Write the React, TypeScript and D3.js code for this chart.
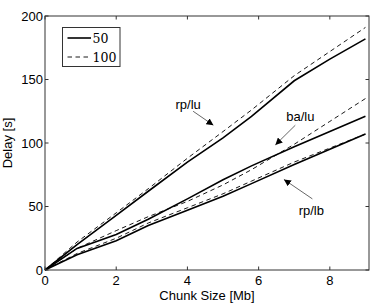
import React, { useRef, useEffect } from 'react';
import * as d3 from 'd3';

// chunk size [Mb]
const chunkSizes = [0, 0.9, 2, 2.9, 4, 5, 5.8, 7, 8, 9];

// delay [s] per scheme, two settings (50 solid, 100 dashed)
const rpLu50 = [0, 20, 43, 62, 85, 104, 121, 149, 166, 182];
const rpLu100 = [0, 22, 45, 64, 88, 109, 126, 153, 172, 191];
const baLu50 = [0, 17, 28, 40, 56, 71, 82, 97, 109, 121];
const baLu100 = [0, 17, 31, 42, 54, 67, 79, 99, 117, 135];
const rpLb50 = [0, 12, 23, 35, 47, 58, 68, 83, 95, 107];
const rpLb100 = [0, 13, 25, 37, 49, 60, 70, 85, 96, 107];

const xTicks = [0, 2, 4, 6, 8];
const yTicks = [0, 50, 100, 150, 200];
const legendLabels = ['50', '100'];

// annotation: label position and arrow (start -> head), in data units
const notes = [
  { text: 'rp/lu', tx: 4.02, ty: 130.5, x1: 4.16, y1: 125, x2: 4.73, y2: 114 },
  { text: 'ba/lu', tx: 7.17, ty: 121, x1: 7.03, y1: 114, x2: 6.47, y2: 98.5 },
  { text: 'rp/lb', tx: 7.48, ty: 46.5, x1: 7.51, y1: 56, x2: 6.71, y2: 71.3 },
];

const App = () => {
  const chartRef = useRef(null);

  useEffect(() => {
    const el = chartRef.current;
    if (!el) return;
    d3.select(el).selectAll('*').remove();

    const width = 374,
      height = 304,
      margin = { top: 16, right: 5, bottom: 34, left: 45 };

    const svg = d3
      .select(el)
      .append('svg')
      .attr('width', width)
      .attr('height', height)
      .style('position', 'absolute')
      .style('left', 0)
      .style('top', 0)
      .style('background', '#fff');

    const x = d3.scaleLinear().domain([0, 9.1]).range([margin.left, width - margin.right]);
    const y = d3.scaleLinear().domain([0, 200]).range([height - margin.bottom, margin.top]);

    const font = 'Liberation Sans, Arial, sans-serif';

    svg
      .append('defs')
      .append('marker')
      .attr('id', 'head')
      .attr('viewBox', '0 0 10 10')
      .attr('refX', 10)
      .attr('refY', 5)
      .attr('markerWidth', 7)
      .attr('markerHeight', 7)
      .attr('markerUnits', 'userSpaceOnUse')
      .attr('orient', 'auto')
      .append('path')
      .attr('d', 'M0,0 L10,5 L0,10 z')
      .attr('fill', '#000');

    const line = d3
      .line<number>()
      .x((d, i) => x(chunkSizes[i]))
      .y(d => y(d));

    const series = [
      { v: rpLu100, dash: true },
      { v: baLu100, dash: true },
      { v: rpLb100, dash: true },
      { v: rpLu50, dash: false },
      { v: baLu50, dash: false },
      { v: rpLb50, dash: false },
    ];

    svg
      .append('g')
      .selectAll('path')
      .data(series)
      .enter()
      .append('path')
      .attr('d', d => line(d.v))
      .attr('fill', 'none')
      .attr('stroke', '#000')
      .attr('stroke-width', d => (d.dash ? 0.9 : 1.6))
      .attr('stroke-dasharray', d => (d.dash ? '4.5,3.5' : null));

    // axis box and ticks (inward, on all sides)
    const x0 = x.range()[0],
      x1 = x.range()[1],
      y0 = y.range()[0],
      y1 = y.range()[1];
    const axis = svg.append('g').attr('stroke', '#333').attr('stroke-width', 1);
    axis
      .append('rect')
      .attr('x', x0)
      .attr('y', y1)
      .attr('width', x1 - x0)
      .attr('height', y0 - y1)
      .attr('fill', 'none');
    xTicks.forEach(t => {
      axis.append('line').attr('x1', x(t)).attr('x2', x(t)).attr('y1', y0).attr('y2', y0 - 3.5);
      axis.append('line').attr('x1', x(t)).attr('x2', x(t)).attr('y1', y1).attr('y2', y1 + 3.5);
    });
    yTicks.forEach(t => {
      axis.append('line').attr('x1', x0).attr('x2', x0 + 3.5).attr('y1', y(t)).attr('y2', y(t));
      axis.append('line').attr('x1', x1).attr('x2', x1 - 3.5).attr('y1', y(t)).attr('y2', y(t));
    });

    svg
      .append('g')
      .selectAll('text')
      .data(xTicks)
      .enter()
      .append('text')
      .attr('x', d => x(d))
      .attr('y', y0 + 15)
      .attr('text-anchor', 'middle')
      .style('font-family', font)
      .style('font-size', '13px')
      .text(d => d);

    svg
      .append('g')
      .selectAll('text')
      .data(yTicks)
      .enter()
      .append('text')
      .attr('x', x0 - 2)
      .attr('y', d => y(d) + 4.5)
      .attr('text-anchor', 'end')
      .style('font-family', font)
      .style('font-size', '13px')
      .text(d => d);

    svg
      .append('text')
      .attr('x', (x0 + x1) / 2)
      .attr('y', height - 4)
      .attr('text-anchor', 'middle')
      .style('font-family', font)
      .style('font-size', '13px')
      .text('Chunk Size [Mb]');

    svg
      .append('text')
      .attr('transform', `translate(12,${(y0 + y1) / 2}) rotate(-90)`)
      .attr('text-anchor', 'middle')
      .style('font-family', font)
      .style('font-size', '13px')
      .text('Delay [s]');

    // annotations
    const ann = svg.append('g');
    notes.forEach(n => {
      ann
        .append('text')
        .attr('x', x(n.tx))
        .attr('y', y(n.ty) + 4.5)
        .attr('text-anchor', 'middle')
        .style('font-family', font)
        .style('font-size', '13px')
        .text(n.text);
      ann
        .append('line')
        .attr('x1', x(n.x1))
        .attr('y1', y(n.y1))
        .attr('x2', x(n.x2))
        .attr('y2', y(n.y2))
        .attr('stroke', '#000')
        .attr('stroke-width', 0.6)
        .attr('marker-end', 'url(#head)');
    });

    // legend
    const lg = svg.append('g').attr('transform', 'translate(62.5,27.5)');
    lg.append('rect')
      .attr('width', 57.5)
      .attr('height', 39)
      .attr('fill', '#fff')
      .attr('stroke', '#333')
      .attr('stroke-width', 1);
    legendLabels.forEach((l, i) => {
      const ly = 10.5 + i * 19;
      lg.append('line')
        .attr('x1', 5)
        .attr('x2', 28.5)
        .attr('y1', ly)
        .attr('y2', ly)
        .attr('stroke', '#000')
        .attr('stroke-width', i === 0 ? 1.6 : 0.9)
        .attr('stroke-dasharray', i === 0 ? null : '4.5,3.5');
      lg.append('text')
        .attr('x', 30)
        .attr('y', ly + 4.5)
        .style('font-family', 'DejaVu Serif, Liberation Serif, serif')
        .style('font-size', '12.5px')
        .text(l);
    });
  }, []);

  return <div ref={chartRef} />;
};

export default App;
